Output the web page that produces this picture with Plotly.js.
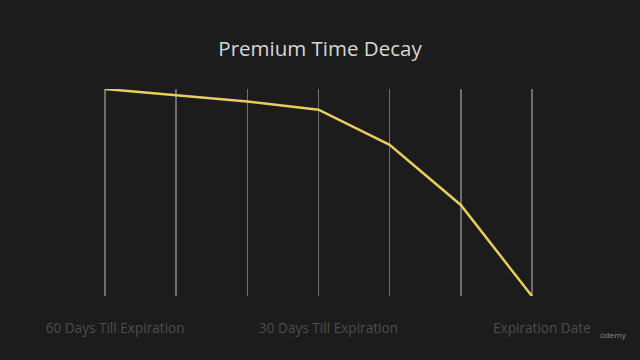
<!DOCTYPE html>
<html><head><meta charset="utf-8">
<script src="https://cdn.plot.ly/plotly-3.0.1.min.js"></script>
<style>html,body{margin:0;padding:0;background:#1c1c1c;}#chart{width:640px;height:360px;}</style>
</head><body><div id="chart"></div>
<script>
var steps = [0, 1, 2, 3, 4, 5, 6];
var premium = [100, 97, 94, 90, 73, 44, 0];
var tickLabels = ["60 Days Till Expiration", "", "", "30 Days Till Expiration", "", "", "Expiration Date"];
var titleText = "Premium Time Decay";

var trace = {
  x: steps, y: premium, type: "scatter", mode: "lines",
  line: {color: "#e8cd5c", width: 2.5}, hoverinfo: "none"
};
var layout = {
  width: 640, height: 360,
  paper_bgcolor: "#1c1c1c", plot_bgcolor: "#1c1c1c",
  margin: {l: 98, r: 101, t: 89, b: 64},
  showlegend: false,
  title: {text: titleText, x: 0.5, xanchor: "center", y: 0.865, yanchor: "middle",
          font: {family: "Open Sans", size: 20.5, color: "#d6d6d6"}},
  xaxis: {range: [-0.1, 6.1], tickvals: steps, ticktext: tickLabels,
          showgrid: true, gridcolor: "#6e6e6e", gridwidth: 1.5,
          zeroline: false, showline: false, ticks: "",
          ticklabelshift: 10, ticklabelstandoff: 22,
          tickfont: {family: "Open Sans", size: 13.6, color: "#4c4c4c"}},
  yaxis: {range: [0, 100], showgrid: false, zeroline: false, showline: false,
          showticklabels: false, ticks: ""},
  annotations: [{text: "üdemy", xref: "paper", yref: "paper", x: 1, y: 0,
                 xshift: 90, yshift: -46, showarrow: false,
                 font: {family: "Open Sans", size: 8, color: "#8a8a8a"}}]
};
Plotly.newPlot("chart", [trace], layout, {displayModeBar: false, staticPlot: true});
</script></body></html>
